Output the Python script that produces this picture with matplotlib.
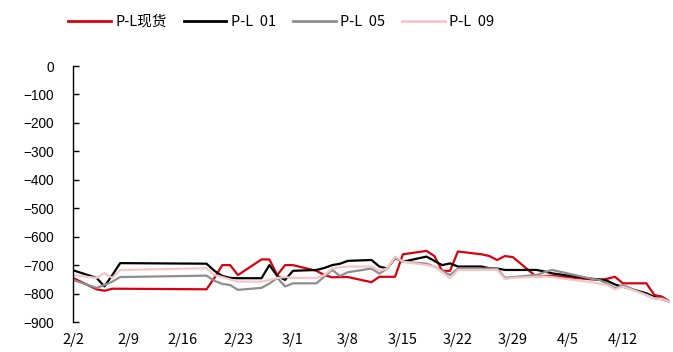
import matplotlib
matplotlib.use("Agg")
import matplotlib.pyplot as plt
import pandas as pd

dates = ["2024-02-02", "2024-02-05", "2024-02-06", "2024-02-07", "2024-02-08",
         "2024-02-19", "2024-02-20", "2024-02-21", "2024-02-22", "2024-02-23",
         "2024-02-26", "2024-02-27", "2024-02-28", "2024-02-29", "2024-03-01",
         "2024-03-04", "2024-03-05", "2024-03-06", "2024-03-07", "2024-03-08",
         "2024-03-11", "2024-03-12", "2024-03-13", "2024-03-14", "2024-03-15",
         "2024-03-18", "2024-03-19", "2024-03-20", "2024-03-21", "2024-03-22",
         "2024-03-25", "2024-03-26", "2024-03-27", "2024-03-28", "2024-03-29",
         "2024-04-01", "2024-04-02", "2024-04-03",
         "2024-04-08", "2024-04-09", "2024-04-10", "2024-04-11", "2024-04-12",
         "2024-04-15", "2024-04-16", "2024-04-17", "2024-04-18"]

spot = [-745, -785, -790, -783, -783,
        -785, -745, -700, -700, -735,
        -680, -680, -735, -700, -700,
        -720, -735, -743, -742, -742,
        -760, -741, -741, -741, -662,
        -650, -668, -720, -720, -652,
        -662, -668, -682, -668, -672,
        -741, -738, -738,
        -750, -752, -748, -741, -764,
        -764, -805, -811, -829]

c01 = [-718, -745, -775, -735, -693,
       -695, -720, -738, -745, -746,
       -746, -700, -738, -752, -720,
       -717, -710, -700, -695, -685,
       -682, -705, -712, -675, -688,
       -670, -685, -700, -694, -705,
       -705, -711, -712, -717, -717,
       -717, -722, -729,
       -748, -750, -755, -768, -776,
       -799, -812, -820, -829]

c05 = [-752, -780, -770, -758, -742,
       -737, -755, -766, -770, -787,
       -780, -765, -745, -775, -764,
       -764, -740, -717, -738, -725,
       -712, -730, -712, -675, -688,
       -695, -705, -720, -735, -712,
       -712, -712, -712, -745, -742,
       -735, -725, -717,
       -748, -752, -765, -781, -770,
       -805, -817, -817, -829]

c09 = [-735, -745, -728, -745, -717,
       -711, -735, -742, -750, -758,
       -758, -752, -745, -742, -745,
       -745, -735, -711, -708, -705,
       -705, -720, -712, -670, -688,
       -700, -705, -725, -746, -717,
       -717, -717, -717, -749, -745,
       -741, -740, -742,
       -760, -765, -770, -785, -776,
       -805, -817, -820, -829]

labels = ["P-L现货", "P-L  01", "P-L  05", "P-L  09"]
colors = ["#D9000F", "#000000", "#8E8E8E", "#F5C6C8"]
yticks = list(range(0, -1000, -100))
xtick_dates = ["2024-02-02", "2024-02-09", "2024-02-16", "2024-02-23", "2024-03-01",
               "2024-03-08", "2024-03-15", "2024-03-22", "2024-03-29", "2024-04-05",
               "2024-04-12"]

x = pd.to_datetime(dates)
fig = plt.figure(figsize=(6.73, 3.52), dpi=100)
ax = fig.add_axes([0.1085, 0.0852, 0.887, 0.7273])

for ser, lab, col in zip([spot, c01, c05, c09], labels, colors):
    ax.plot(x, ser, color=col, lw=1.6, label=lab)

ax.set_ylim(-900, 0)
ax.set_yticks(yticks)
ax.set_xlim(pd.Timestamp("2024-02-02"), pd.Timestamp("2024-04-18"))
xt = pd.to_datetime(xtick_dates)
ax.set_xticks(xt)
ax.set_xticklabels([f"{d.month}/{d.day}" for d in xt], family=["Noto Sans CJK SC", "DejaVu Sans"], fontsize=10.5)
for t in ax.get_yticklabels():
    t.set_family("Liberation Sans")
    t.set_fontsize(9.8)

for s in ["top", "right", "bottom"]:
    ax.spines[s].set_visible(False)
ax.spines["left"].set_linewidth(1.0)
ax.tick_params(axis="y", direction="in", length=4, width=1.0, pad=14)
ax.tick_params(axis="x", length=0, pad=8)

leg = fig.legend(loc="upper center", bbox_to_anchor=(0.418, 0.995), ncol=4, frameon=False,
                 prop={"family": ["Noto Sans CJK SC", "DejaVu Sans"], "size": 10.5},
                 handlelength=2.9, handletextpad=0.3, columnspacing=1.2)
for h in leg.get_lines():
    h.set_linewidth(2.0)

fig.savefig("out.png", dpi=100)
